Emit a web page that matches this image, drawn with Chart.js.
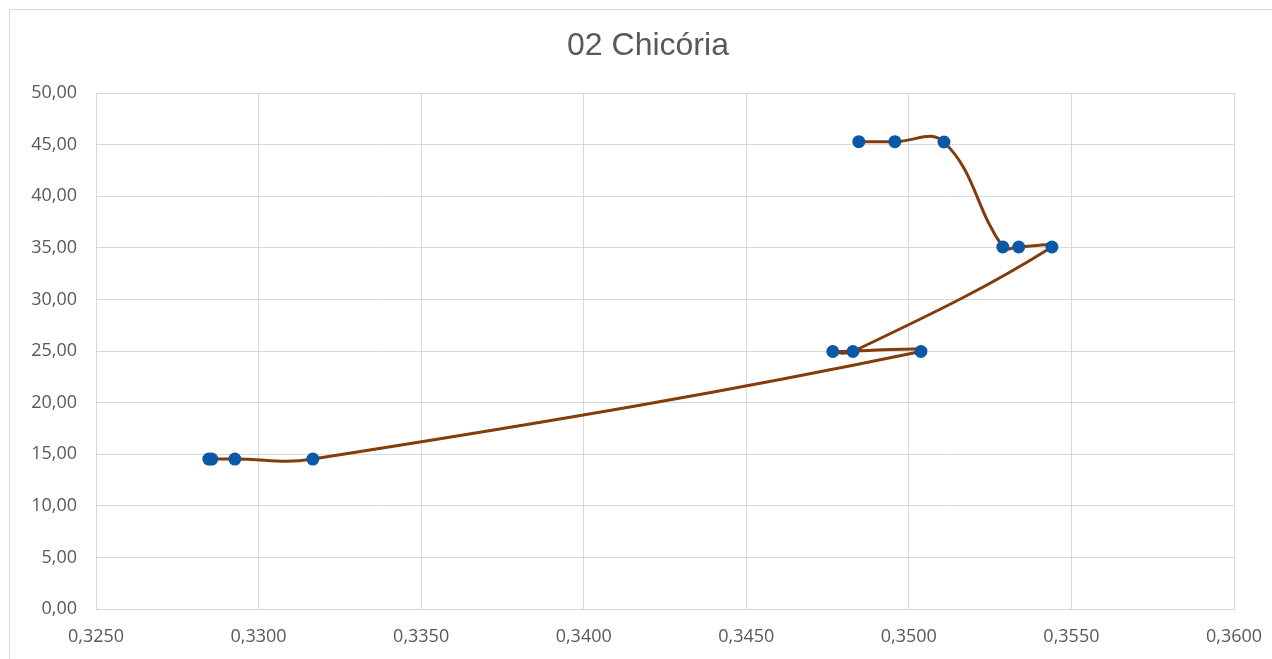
<!DOCTYPE html>
<html>
<head>
<meta charset="utf-8">
<script src="https://cdn.jsdelivr.net/npm/chart.js@4.4.1/dist/chart.umd.min.js"></script>
<style>
  html, body { margin: 0; padding: 0; background: #ffffff; overflow: hidden; }
  #wrap { position: relative; width: 1272px; height: 659px; }
  #frame { position: absolute; left: 9px; top: 9px; width: 1300px; height: 700px;
           border: 1px solid #d9d9d9; box-sizing: border-box; }
  canvas { position: absolute; left: 0; top: 0; }
</style>
</head>
<body>
<div id="wrap">
  <div id="frame"></div>
  <canvas id="chart" width="1272" height="659"></canvas>
</div>
<script>
// Series: points are joined in the order they were measured
const xValues = [0.32847, 0.32856, 0.32927, 0.33167, 0.35037, 0.34766, 0.34828,
                 0.35440, 0.35338, 0.35289, 0.35108, 0.34957, 0.34846];
const yValues = [14.53, 14.53, 14.53, 14.53, 24.95, 24.95, 24.95,
                 35.08, 35.08, 35.08, 45.25, 45.28, 45.28];

// Axis ranges and tick spacing
const xTicks = { min: 0.325, max: 0.360, step: 0.005 };
const yTicks = { min: 0, max: 50, step: 5 };

const chartTitle = '02 Chicória';

const points = xValues.map((x, i) => ({ x: x, y: yValues[i] }));

const tickFont = { family: '"Open Sans", "Noto Sans", sans-serif', size: 18 };
const grey = '#595959';
const gridColor = '#d9d9d9';

// Title drawn centred over the chart frame rather than the canvas
const frameTitle = {
  id: 'frameTitle',
  afterDraw(chart) {
    const ctx = chart.ctx;
    ctx.save();
    ctx.fillStyle = grey;
    ctx.font = '32px "Liberation Sans", Arial, sans-serif';
    ctx.textAlign = 'center';
    ctx.textBaseline = 'middle';
    ctx.fillText(chartTitle, 648, 46);
    ctx.restore();
  }
};

new Chart(document.getElementById('chart'), {
  type: 'scatter',
  data: {
    datasets: [{
      data: points,
      showLine: true,
      tension: 0.42,
      borderColor: '#843C0C',
      borderWidth: 3,
      pointRadius: 6.5,
      pointHoverRadius: 6.5,
      pointBackgroundColor: '#0A58A8',
      pointBorderColor: '#0A58A8',
      pointBorderWidth: 0
    }]
  },
  plugins: [frameTitle],
  options: {
    responsive: false,
    animation: false,
    layout: { padding: { left: 0, right: 38, top: 93, bottom: 0 } },
    plugins: {
      legend: { display: false },
      tooltip: { enabled: false },
      title: { display: false }
    },
    scales: {
      x: {
        type: 'linear',
        min: xTicks.min,
        max: xTicks.max,
        grid: { color: gridColor, drawTicks: false },
        border: { color: gridColor },
        ticks: {
          stepSize: xTicks.step,
          color: grey,
          font: tickFont,
          padding: 17,
          callback: v => v.toFixed(4).replace('.', ',')
        },
        afterFit: s => { s.height = 50; s.paddingLeft = 0; s.paddingRight = 0; }
      },
      y: {
        type: 'linear',
        min: yTicks.min,
        max: yTicks.max,
        grid: { color: gridColor, drawTicks: false },
        border: { display: false },
        ticks: {
          stepSize: yTicks.step,
          color: grey,
          font: tickFont,
          padding: 19,
          callback: v => v.toFixed(2).replace('.', ',')
        },
        afterFit: s => { s.width = 96; s.paddingTop = 0; s.paddingBottom = 0; }
      }
    }
  }
});
</script>
</body>
</html>
